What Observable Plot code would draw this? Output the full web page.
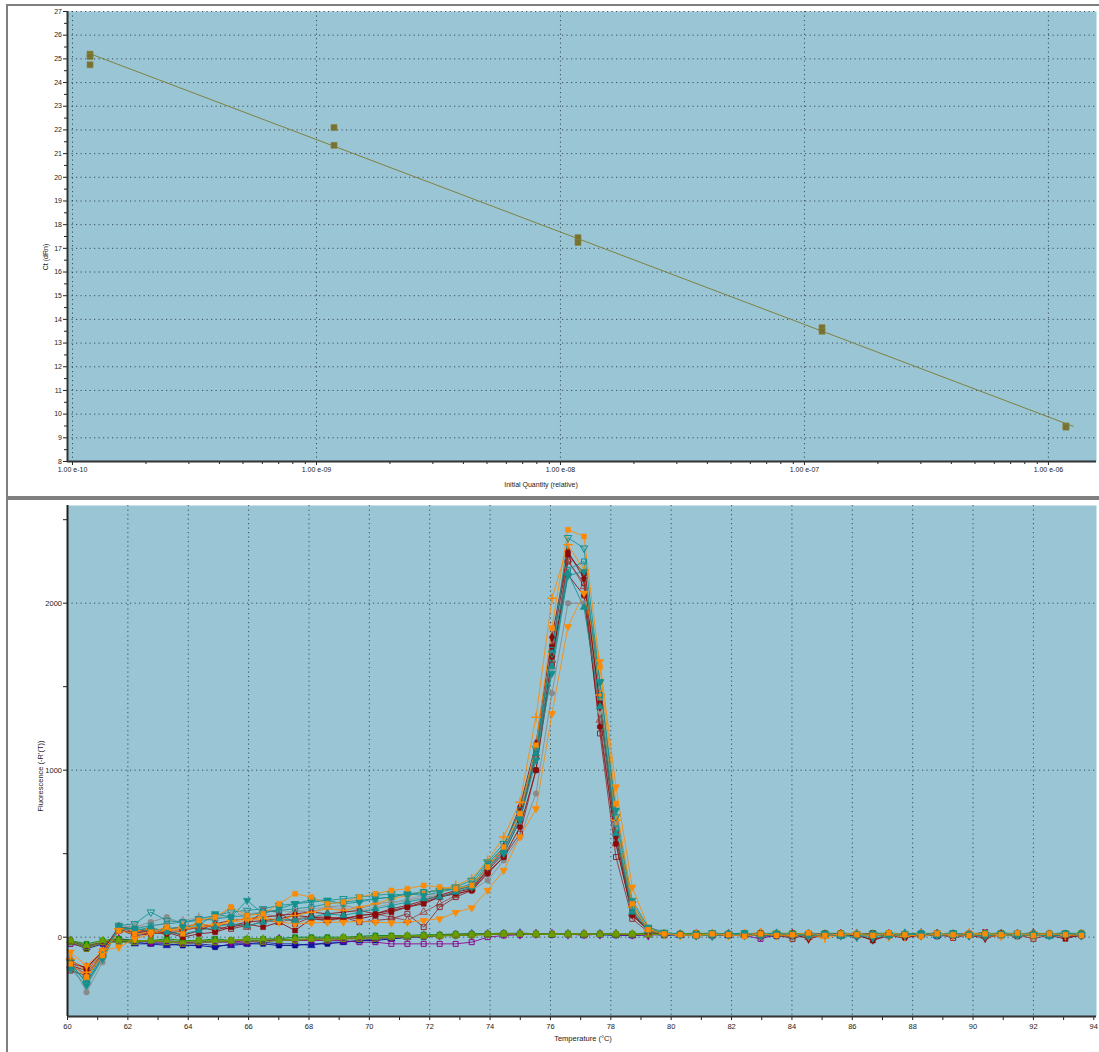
<!DOCTYPE html>
<html><head><meta charset="utf-8">
<script src="https://cdn.jsdelivr.net/npm/d3@7"></script>
<script src="https://cdn.jsdelivr.net/npm/@observablehq/plot@0.6"></script>
<style>
html,body{margin:0;padding:0;background:#fff;}
#wrap{position:relative;width:1099px;height:1052px;overflow:hidden;background:#fff;font-family:"Liberation Sans",Arial,sans-serif;}
.bar{position:absolute;background:#7f7f7f;}
.lbl{position:absolute;font-size:7px;color:#222;white-space:nowrap;}
</style></head><body>
<div id="wrap">
 <div id="top" style="position:absolute;left:0;top:0"></div>
 <div id="bottom" style="position:absolute;left:0;top:500px"></div>
 <div class="bar" style="left:6px;top:4px;width:2px;height:1048px"></div>
 <div class="bar" style="left:6px;top:4px;width:1093px;height:2px"></div>
 <div class="bar" style="left:6px;top:496px;width:1093px;height:4px"></div>
 <div class="lbl" style="left:45px;top:257px;transform:translate(-50%,-50%) rotate(-90deg)">Ct (dRn)</div>
 <div class="lbl" style="left:541px;top:484px;transform:translate(-50%,-50%)">Initial Quantity (relative)</div>
 <div class="lbl" style="left:40px;top:776px;font-size:7.5px;transform:translate(-50%,-50%) rotate(-90deg)">Fluorescence (-R'(T))</div>
 <div class="lbl" style="left:583px;top:1038px;font-size:7.5px;transform:translate(-50%,-50%)">Temperature (°C)</div>
</div>
<script>
// ---------- Standard curve data ----------
const quantity = [1.18e-10, 1.18e-10, 1.18e-10, 1.18e-9, 1.18e-9, 1.18e-8, 1.18e-8, 1.18e-7, 1.18e-7, 1.18e-6, 1.18e-6];
const ct = [25.2, 25.1, 24.75, 22.1, 21.35, 17.45, 17.25, 13.65, 13.5, 9.5, 9.45];
const ctTicks = [8,9,10,11,12,13,14,15,16,17,18,19,20,21,22,23,24,25,26,27];
const quantityTicks = [1e-10, 1e-9, 1e-8, 1e-7, 1e-6];
const quantityTickLabels = ["1.00 e-10", "1.00 e-09", "1.00 e-08", "1.00 e-07", "1.00 e-06"];

// ---------- Melt curve data ----------
const temperature = [60.10, 60.63, 61.16, 61.70, 62.23, 62.76, 63.29, 63.82, 64.35, 64.89, 65.42, 65.95, 66.48, 67.01, 67.54, 68.08, 68.61, 69.14, 69.67, 70.20, 70.73, 71.26, 71.80, 72.33, 72.86, 73.39, 73.92, 74.45, 74.99, 75.52, 76.05, 76.58, 77.11, 77.64, 78.17, 78.71, 79.24, 79.77, 80.30, 80.83, 81.36, 81.90, 82.43, 82.96, 83.49, 84.02, 84.55, 85.09, 85.62, 86.15, 86.68, 87.21, 87.74, 88.28, 88.81, 89.34, 89.87, 90.40, 90.93, 91.47, 92.00, 92.53, 93.06, 93.59];
const tempTickLabels = [60,62,64,66,68,70,72,74,76,78,80,82,84,86,88,90,92,94];
const fluorTickLabels = [0, 1000, 2000];

const orangeSquare = [-160,-240,-110,40,20,30,60,20, 100,120,180,130,140,200,260,240, 200,210,240,260,280,290,310,300, 290,310,420,540,740,1150,1850,2440, 2400,1617,800,200,45,20,15,10, 20,15,5,20,10,15,25,10, 20,15,10,25,15,5,20,15, 10,20,15,25,10,20,15,10];
const orangeTriDown = [-90,-170,-80,-60,-10,20,40,50, 60,70,90,100,110,90,80,85, 90,90,95,90,85,90,100,110, 148,175,280,400,600,769,1338,1860, 2060,1650,900,300,60,25,15,10, 10,20,15,10,25,20,5,15, 10,20,15,0,20,10,25,15, 20,10,5,15,20,15,25,15];
const orangePlus = [-130,-210,-90,50,40,50,40,60, 80,70,100,110,120,100,130,150, 170,160,180,200,230,250,270,280, 310,350,460,600,808,1317,2030,2350, 2200,1450,700,180,40,20,10,15, 15,10,20,25,15,10,20,-5, 15,20,10,15,5,20,15,10, 25,20,10,15,5,20,10,20];
const tealOpenTriDown = [-150,-280,-120,70,80,150,100,90, 110,130,150,160,170,190,200,210, 220,230,240,250,260,250,270,280, 300,340,450,560,740,1130,1700,2392, 2330,1527,720,200,50,25,15,10, 25,15,10,15,20,10,15,20, 10,0,20,15,10,20,15,25, 10,15,20,10,15,10,20,15];
const tealTriDown = [-190,-290,-130,60,50,40,50,60, 70,140,120,220,140,170,200,224, 220,200,210,230,240,260,250,270, 290,300,420,500,700,1060,1580,2165, 2190,1530,760,220,60,30,15,20, 5,20,25,10,15,20,10,15, 20,15,-5,10,20,15,10,20, 15,5,20,25,15,10,20,10];
const tealTriUp = [-180,-260,-110,50,40,60,30,20, 40,60,80,70,90,110,100,120, 140,130,150,170,190,210,230,240, 270,300,430,520,720,1100,1620,2180, 1976,1380,620,150,40,20,15,10, 15,20,10,15,25,10,20,15, 5,20,15,10,25,15,20,10, 15,20,10,15,20,5,15,20];
const darkRedDiamond = [-160,-180,-90,60,30,20,40,10, 40,80,100,110,120,130,140,150, 140,150,160,140,170,190,220,250, 280,310,420,540,780,1158,1796,2310, 2150,1380,600,140,40,20,15,10, 10,15,20,5,15,20,-10,15, 20,10,-15,15,5,10,20,15, 10,-5,15,20,10,15,5,10];
const darkRedSquare = [-170,-200,-100,50,10,20,30,0, 20,30,60,80,60,90,40,110, 100,120,110,130,150,180,200,240, 270,290,400,500,700,1100,1740,2290, 2180,1400,620,150,40,20,15,10, 20,10,15,20,10,5,15,20, 10,15,-20,10,15,20,10,15, 20,10,15,5,20,10,-10,15];
const darkRedCircle = [-140,-190,-80,60,50,30,20,40, 60,40,70,90,100,110,130,120, 120,110,130,140,160,180,210,240, 260,280,380,480,660,1000,1680,2170, 2046,1260,560,130,40,20,15,10, 15,20,10,25,15,10,20,15, 10,20,15,10,-5,15,20,10, 15,20,10,15,10,20,15,10];
const darkRedOpenSquare = [-200,-230,-110,40,30,40,50,60, 80,60,50,70,160,150,80,120, 110,120,90,100,110,140,60,180, 240,280,390,480,620,1000,1630,2250, 2120,1220,480,110,30,20,15,10, 10,15,20,10,15,-10,20,15, 10,15,20,10,15,10,20,-5, 15,10,20,15,-10,15,20,10];
const greyCircle = [-150,-330,-150,70,60,90,120,80, 110,100,180,100,140,120,160,150, 180,190,170,200,210,220,240,250, 260,280,340,460,600,860,1460,2000, 2000,1400,680,180,50,25,15,10, 20,15,10,20,15,10,25,20, 15,10,20,15,10,25,15,20, 10,15,20,10,15,20,10,15];
const greyDiamond = [-120,-250,-100,60,70,60,90,100, 120,110,130,140,150,160,150,170, 180,170,160,180,200,230,250,260, 270,300,400,520,740,1100,1600,2300, 2150,1350,600,160,40,20,15,10, 15,20,15,10,20,15,10,20, 15,25,10,15,20,10,15,20, 25,15,10,20,15,10,20,15];
const rosyOpenTriangle = [-170,-220,-100,40,20,40,30,50, 60,70,80,60,100,90,110,120, 100,110,130,140,120,100,150,200, 250,290,410,520,720,1080,1660,2260, 2100,1300,560,140,40,20,15,10, 10,20,15,10,20,15,0,15, 20,10,15,20,10,15,20,10, 15,5,20,10,15,20,10,15];
const tealOpenSquare = [-160,-270,-120,60,50,70,80,90, 100,110,120,130,150,160,170,180, 200,210,220,230,240,260,270,280, 290,320,440,540,760,1120,1720,2200, 2250,1450,650,170,45,20,15,10, 20,15,25,10,15,20,10,15, 20,15,10,20,15,25,10,20, 15,10,20,15,10,20,25,15];

const navySquare = [-30,-70,-40,-20,-30,-40,-40,-50, -50,-60,-40,-40,-40,-50,-50,-40, -40,-30,-20,-20,-10,0,0,10, 10,15,20,20,20,15,20,15, 20,15,10,15,20,10,15,20, 10,15,20,10,5,15,20,10, 15,10,20,15,10,20,5,15, 20,10,15,20,10,15,5,10];
const navyTriangle = [-20,-60,-30,-20,-40,-40,-50,-40, -40,-50,-50,-40,-30,-40,-40,-50, -30,-30,-20,-10,-10,0,10,10, 15,20,15,20,25,20,15,20, 15,20,15,10,15,20,10,15, 20,10,15,20,15,10,20,15, 10,20,15,10,20,15,10,20, 15,10,20,15,20,10,15,20];
const purpleOpenSquare = [-40,-60,-30,-20,-20,-30,-30,-30, -30,-30,-30,-30,-20,-20,-20,-20, -20,-20,-30,-30,-40,-40,-40,-40, -40,-30,0,10,15,20,15,20, 10,20,15,10,20,15,20,10, 15,20,10,-10,15,20,10,15, 20,10,25,15,10,15,20,10, 15,30,10,20,15,20,10,15];
const purpleDiamond = [-20,-50,-30,-10,-20,-30,-20,-30, -30,-20,-30,-20,-20,-10,-20,-10, -10,-10,0,0,0,5,10,10, 15,15,20,20,15,20,20,15, 20,15,20,15,10,20,15,20, 10,20,15,25,15,10,20,15, 10,20,15,20,10,25,15,10, 20,15,10,20,25,15,10,20];
const greenSquare = [-20,-40,-20,-10,-20,-20,-10,-20, -20,-10,-20,-10,-10,-10,0,0, 0,0,5,10,10,10,15,15, 20,20,20,25,20,20,15,20, 20,20,15,20,25,20,15,20, 25,20,15,20,25,20,15,25, 20,15,25,20,15,20,20,25, 15,20,25,20,15,20,25,20];
const greenOpenSquare = [-30,-60,-30,-20,-30,-20,-30,-20, -20,-30,-20,-20,-20,-10,-20,-10, -10,-10,-10,0,0,5,5,10, 10,15,15,20,20,20,20,20, 15,20,20,15,20,15,20,25, 15,20,20,15,20,25,15,20, 20,15,20,25,20,15,20,15, 20,25,15,20,20,15,20,25];
const oliveOpenSquare = [-25,-70,-30,-30,-30,-20,-30,-40, -30,-30,-20,-20,-30,-20,-20,-10, -20,-10,-10,-10,0,0,5,5, 10,10,15,20,20,15,20,15, 20,20,15,20,15,20,15,25, 20,15,20,25,15,20,15,20, 25,20,15,20,15,20,25,15, 20,15,25,20,15,20,15,20];
const limeTriangle = [-20,-50,-20,-20,-20,-20,-20,-30, -20,-20,-20,-10,-10,-20,-10,-10, -10,0,0,0,5,10,10,10, 15,15,20,20,20,20,15,20, 20,15,20,20,15,20,20,15, 20,20,15,20,20,15,20,20, 15,20,20,15,20,25,20,15, 20,20,15,20,25,20,15,20];

// ---------- Styles (not data) ----------
const ORANGE = "#ff8a00", TEAL = "#16908f", DRED = "#8b0a0a", GREY = "#8a8a8a";
const meltSeries = [
  {values: navySquare, color: "#00008b", symbol: "square", open: false},
  {values: navyTriangle, color: "#1414a0", symbol: "triangle", open: false},
  {values: purpleOpenSquare, color: "#8b008b", symbol: "square", open: true},
  {values: purpleDiamond, color: "#930093", symbol: "diamond", open: false},
  {values: greenSquare, color: "#008000", symbol: "square", open: false},
  {values: greenOpenSquare, color: "#3a9a10", symbol: "square", open: true},
  {values: oliveOpenSquare, color: "#808000", symbol: "square", open: true},
  {values: limeTriangle, color: "#6b9e00", symbol: "triangle", open: false},
  {values: greyCircle, color: GREY, symbol: "circle", open: false},
  {values: greyDiamond, color: "#9a9a9a", symbol: "diamond", open: false},
  {values: rosyOpenTriangle, color: "#9b4a4a", symbol: "triangle", open: true},
  {values: darkRedOpenSquare, color: "#8f2a2a", symbol: "square", open: true},
  {values: darkRedCircle, color: DRED, symbol: "circle", open: false},
  {values: darkRedSquare, color: DRED, symbol: "square", open: false},
  {values: darkRedDiamond, color: DRED, symbol: "diamond", open: false},
  {values: orangePlus, color: ORANGE, symbol: "plus", open: true},
  {values: orangeTriDown, color: ORANGE, symbol: "triangle", rotate: 180, open: false},
  {values: tealOpenSquare, color: TEAL, symbol: "square", open: true},
  {values: tealTriUp, color: TEAL, symbol: "triangle", open: false},
  {values: tealOpenTriDown, color: TEAL, symbol: "triangle", rotate: 180, open: true},
  {values: tealTriDown, color: TEAL, symbol: "triangle", rotate: 180, open: false},
  {values: orangeSquare, color: ORANGE, symbol: "square", open: false}
];

const BG = "#99c5d5";
const GRID = {stroke: "#2a3a44", strokeOpacity: 0.85, strokeDasharray: "1.2,3.3", strokeWidth: 1};
const FONT = "'Liberation Sans', Arial, sans-serif";

// ---------- Top chart ----------
const stdRows = quantity.map((q, i) => ({q, ct: ct[i]}));
const lx = quantity.map(Math.log10);
const mx = d3.mean(lx), my = d3.mean(ct);
const slope = d3.sum(lx, (x, i) => (x - mx) * (ct[i] - my)) / d3.sum(lx, x => (x - mx) ** 2);
const fitQ = [d3.min(quantity), d3.max(quantity) * 1.07];
const fitRows = fitQ.map(q => ({q, ct: my + slope * (Math.log10(q) - mx)}));

const xDomain = [Math.pow(10, -10.0205), Math.pow(10, -5.803)];
const minorQ = [];
for (let e = -10; e <= -6; e++) for (let m = 2; m <= 9; m++) { const v = m * Math.pow(10, e); if (v < xDomain[1]) minorQ.push(v); }
const minorCt = d3.range(8.5, 27, 1);
const qLabel = d => { const k = quantityTicks.findIndex(t => Math.abs(Math.log10(t) - Math.log10(d)) < 1e-6); return k >= 0 ? quantityTickLabels[k] : ""; };

const topChart = Plot.plot({
  width: 1099, height: 496,
  marginTop: 11, marginBottom: 35, marginLeft: 67, marginRight: 3,
  style: {background: "transparent", fontSize: "7px", fontFamily: FONT, color: "#222"},
  x: {type: "log", domain: xDomain, label: null},
  y: {domain: [8, 27], label: null},
  marks: [
    Plot.frame({fill: BG, stroke: null}),
    Plot.gridX(quantityTicks, GRID),
    Plot.gridY(ctTicks.filter(d => d > 8), GRID),
    Plot.axisY(ctTicks, {tickSize: 4, tickPadding: 1.5, label: null}),
    Plot.axisY(minorCt, {tickSize: 3, tickFormat: () => "", label: null}),
    Plot.axisX(quantityTicks, {tickSize: 4, tickPadding: 2, tickFormat: qLabel, label: null}),
    Plot.axisX(minorQ, {tickSize: 3, tickFormat: () => "", label: null}),
    Plot.ruleY([8], {stroke: "#333", strokeWidth: 2}),
    Plot.ruleX([xDomain[0]], {stroke: "#333", strokeWidth: 2}),
    Plot.line(fitRows, {x: "q", y: "ct", stroke: "#7f8240", strokeWidth: 1}),
    Plot.dot(stdRows, {x: "q", y: "ct", symbol: "square", r: 3.4, fill: "#77722f", stroke: "#8a8540", strokeWidth: 0.6})
  ]
});
document.getElementById("top").appendChild(topChart);

// ---------- Bottom chart ----------
const meltMarks = [];
for (const s of meltSeries) {
  const rows = s.values.map((v, i) => ({t: temperature[i], v}));
  meltMarks.push(Plot.line(rows, {x: "t", y: "v", stroke: s.color, strokeWidth: 1, strokeOpacity: 0.85}));
}
for (const s of meltSeries) {
  const rows = s.values.map((v, i) => ({t: temperature[i], v}));
  const opts = {x: "t", y: "v", symbol: s.symbol, r: s.symbol === "plus" ? 3.2 : 2.8, stroke: s.color};
  if (s.rotate) opts.rotate = s.rotate;
  if (s.open) { opts.fill = "none"; opts.strokeWidth = s.symbol === "plus" ? 1.5 : 1; }
  else { opts.fill = s.color; opts.strokeWidth = 0.5; }
  meltMarks.push(Plot.dot(rows, opts));
}

const bottomChart = Plot.plot({
  width: 1099, height: 552,
  marginTop: 5, marginBottom: 36, marginLeft: 67, marginRight: 3,
  style: {background: "transparent", fontSize: "7.5px", fontFamily: FONT, color: "#222"},
  x: {domain: [60, 94.09], label: null},
  y: {domain: [-475, 2585], label: null},
  marks: [
    Plot.frame({fill: BG, stroke: null}),
    Plot.gridX(tempTickLabels.filter(d => d > 60 && d < 94), GRID),
    Plot.gridY(fluorTickLabels, GRID),
    Plot.axisY(fluorTickLabels, {tickSize: 4, tickPadding: 1.5, tickFormat: d => String(d), label: null}),
    Plot.axisY([500, 1500, 2500], {tickSize: 4, tickFormat: () => "", label: null}),
    Plot.axisX(tempTickLabels, {tickSize: 4, tickPadding: 3, tickFormat: d => String(d), label: null}),
    Plot.axisX(d3.range(61, 94, 2), {tickSize: 4, tickFormat: () => "", label: null}),
    ...meltMarks,
    Plot.ruleY([-475], {stroke: "#333", strokeWidth: 2}),
    Plot.ruleX([60], {stroke: "#222", strokeWidth: 2})
  ]
});
document.getElementById("bottom").appendChild(bottomChart);
</script>
</body></html>
